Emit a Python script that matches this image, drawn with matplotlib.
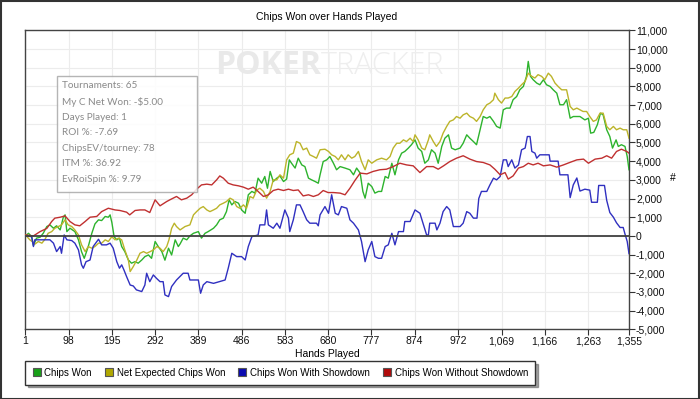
import matplotlib
matplotlib.use("Agg")
import matplotlib.pyplot as plt
from matplotlib.lines import Line2D
from matplotlib.patches import Rectangle
from matplotlib.ticker import FuncFormatter

# hands played vs chips
won_hands = [1, 8, 15, 19, 26, 34, 41, 49, 56, 64, 71, 79, 86, 90, 94, 101, 112, 120, 127, 133, 142, 150, 157, 165, 172, 180, 187, 191, 195, 200, 206, 212, 217, 224, 232, 239, 247, 254, 262, 269, 277, 284, 292, 299, 307, 314, 322, 329, 337, 344,
             348, 355, 363, 370, 378, 389, 396, 404, 411, 423, 430, 437, 445, 452, 458, 464, 471, 479, 486, 494, 501, 509, 516, 523, 531, 538, 544, 550, 557, 565, 572, 580, 587, 593, 598, 606, 613, 621, 628, 636, 643, 651, 658,
             662, 669, 677, 684, 692, 699, 707, 718, 729, 737, 744, 752, 758, 763, 770, 778, 785, 793, 800, 808, 815, 823, 830, 838, 845, 852, 860, 867, 875, 882, 890, 897, 905, 912, 920, 927, 935, 942, 950, 957, 965, 976, 983, 991,
             998, 1006, 1013, 1021, 1028, 1036, 1043, 1051, 1058, 1066, 1073, 1080, 1088, 1095, 1103, 1110, 1118, 1125, 1129, 1134, 1140, 1148, 1155, 1163, 1170, 1178, 1185, 1193, 1200, 1208, 1215, 1223, 1230, 1238, 1245, 1256, 1264, 1269, 1276, 1284, 1291, 1297, 1305, 1312, 1318, 1326, 1331, 1338, 1346, 1351, 1355]
won_vals = [0, 140, -40, -520, -120, -70, 140, 500, 590, 410, 540, 320, 1000, 1125, 230, 410, 230, -210, -850, -1200, -570, 140, 640, 860, 820, 1040, 1000, 1125, 710, -40, -210, -120, -570, -840, -1290, -1460, -1380, -1460, -1290, -1110, -1020, -1200, -300, -570, -840, -1300, -660, -1020, -210, -570,
            -430, -120, -210, 0, 140, 230, -120, 140, 230, 410, 590, 860, 950, 1300, 1930, 1660, 1840, 1750, 1390, 1210, 2200, 2380, 2290, 3090, 2820, 3180, 2550, 3450, 2910, 3090, 3210, 2910, 3040, 4070, 3890, 3630, 4160, 3800, 3710, 3090, 3000, 2910, 2820,
            3270, 3980, 4070, 4250, 3890, 3540, 3710, 3630, 3540, 3270, 3630, 3360, 2380, 2020, 2820, 2640, 2290, 2380, 2380, 3180, 3090, 3890, 3270, 4070, 4430, 4520, 4700, 4880, 5140, 4700, 4520, 3890, 4070, 4610, 4430, 3890, 4790, 5230, 5410, 4700, 4610, 4700, 4960, 5410,
            5230, 5050, 4880, 5680, 6390, 6300, 6390, 6130, 5860, 5770, 6750, 6840, 6840, 7290, 7460, 7820, 8000, 8540, 9340, 8540, 8360, 8180, 8090, 8360, 8090, 8000, 7820, 7640, 7020, 7020, 7290, 6300, 6390, 6390, 6390, 6210, 6300, 5500, 5540, 5950, 6570, 6480, 5680, 5320, 4700, 5140, 4790, 4880, 4790, 4250, 3540]

ev_hands = [1, 11, 23, 30, 38, 45, 52, 60, 67, 75, 82, 90, 97, 105, 112, 120, 127, 135, 142, 150, 157, 165, 172, 180, 187, 195, 202, 210, 217, 224, 232, 236, 243, 251, 258, 266, 273, 281, 288, 296, 303, 310, 318, 323, 329, 335,
            340, 348, 359, 370, 378, 385, 393, 400, 408, 415, 423, 430, 437, 445, 452, 460, 467, 475, 482, 490, 497, 505, 512, 520, 527, 535, 542, 550, 557, 565, 572, 580, 587, 594, 602, 609, 617, 624, 632, 639, 647, 654,
            662, 673, 681, 688, 696, 703, 710, 718, 725, 733, 740, 748, 755, 763, 770, 778, 789, 800, 811, 819, 826, 834, 841, 849, 856, 864, 871, 875, 882, 890, 897, 905, 908, 916, 923, 931, 938, 946, 953, 961, 968, 976, 983, 991,
            998, 1006, 1013, 1021, 1028, 1036, 1043, 1051, 1054, 1062, 1069, 1077, 1084, 1092, 1099, 1107, 1114, 1122, 1129, 1137, 1144, 1151, 1159, 1166, 1174, 1181, 1189, 1196, 1204, 1215, 1223, 1230, 1238, 1245, 1252, 1260, 1267, 1275, 1282, 1290, 1297, 1305, 1312, 1320, 1327, 1335, 1342, 1350, 1355]
ev_vals = [50, -210, -430, -300, -390, -180, 140, 230, 410, 500, 590, 860, 590, 500, 320, 50, -480, -840, -570, -660, -570, -390, -390, -210, -300, -40, -210, -120, -210, -750, -1290, -1910, -1640, -1290, -930, -840, -930, -840, -750, -570, -660, -840, -570, -210, 400, 680,
           500, 320, 500, 590, 1125, 1300, 1480, 1570, 1390, 1300, 1390, 1480, 1660, 1750, 1840, 2020, 1930, 1570, 1480, 1660, 1480, 2110, 2020, 2460, 2550, 2380, 2020, 2380, 3000, 3000, 3270, 3090, 4070, 4340, 4430, 5050, 4960, 4610, 4700, 4340, 4250, 4160,
           4610, 4640, 4520, 4340, 4250, 4070, 4340, 4070, 4340, 4160, 4250, 4520, 3980, 3540, 4070, 3890, 4070, 4160, 4070, 4250, 4700, 4960, 4960, 5140, 5050, 5230, 5050, 5410, 5140, 4700, 4610, 5140, 5410, 5050, 4790, 5050, 5500, 5860, 6130, 6210, 6390, 6300, 6480, 6570,
           6390, 6300, 6130, 6390, 6750, 7020, 7110, 7290, 7640, 7290, 7110, 7380, 7380, 7460, 7730, 7910, 8090, 8270, 8710, 8540, 8450, 8630, 8540, 8360, 8710, 8540, 8180, 8000, 7820, 7820, 6930, 6750, 6840, 6750, 6660, 6660, 6390, 6130, 6210, 6570, 6570, 5860, 5680, 5860, 5680, 5770, 5680, 5680, 5230]

sd_hands = [1, 15, 19, 22, 56, 64, 71, 79, 82, 88, 94, 105, 112, 120, 127, 131, 137, 146, 153, 165, 172, 183, 191, 198, 206, 212, 217, 222, 228, 236, 243, 250, 262, 269, 273, 280, 288, 295, 303, 310, 314, 322,
            329, 337, 340, 355, 366, 370, 389, 394, 400, 408, 423, 449, 456, 464, 475, 486, 494, 501, 509, 523, 527, 538, 542, 546, 557, 565, 572, 583, 591, 594, 602, 609, 617, 624, 632, 639, 654, 658,
            662, 673, 681, 688, 696, 703, 710, 722, 729, 737, 748, 755, 763, 770, 778, 785, 793, 800, 808, 815, 823, 830, 838, 849, 852, 864, 875, 886, 894, 901, 905, 908, 920, 924, 931, 938, 946, 953, 961, 976, 983, 991,
            998, 1006, 1014, 1018, 1024, 1036, 1043, 1051, 1058, 1066, 1073, 1080, 1084, 1092, 1099, 1107, 1114, 1122, 1127, 1133, 1137, 1144, 1148, 1155, 1176, 1178, 1196, 1200, 1218, 1223, 1230, 1238, 1245, 1256, 1267, 1271, 1284, 1287, 1300, 1305, 1312, 1320, 1327, 1335, 1342, 1346, 1351, 1355]
sd_vals = [0, -40, -570, -210, -210, -390, -840, -570, -930, 50, -210, -250, -390, -750, -1550, -1730, -1380, -1290, -570, -180, -480, -480, -390, -660, -1380, -1730, -1550, -1820, -2180, -2630, -2680, -2890, -2980, -2630, -2000, -2450, -2090, -2270, -2450, -2450, -3160, -3250,
           -2710, -2450, -2360, -2000, -2000, -2360, -2360, -3070, -2625, -2450, -2540, -2360, -1730, -930, -1110, -1110, -1290, -570, -40, 50, 590, 590, 1390, 590, 410, 680, 410, 1390, 950, 230, 860, 1660, 1660, 1300, 860, 680, 680, 540,
           1125, 1570, 1210, 2200, 1210, 1125, 1570, 1480, 860, 680, 320, -300, -1380, -750, -300, -1110, -1200, -1200, -570, -480, 140, -480, 230, 230, 770, 770, 1390, 1210, 590, 50, 50, 680, 680, 320, 680, 1300, 1570, 1390, 500, 500, 680, 1300,
           1210, 950, 950, 2000, 2380, 2380, 2730, 3090, 3000, 3180, 4070, 4070, 3710, 4070, 3630, 3800, 4610, 4700, 5320, 5320, 4520, 4430, 4160, 4340, 4340, 4000, 4000, 3270, 3270, 2050, 2730, 3100, 2400, 2500, 2450, 1800, 1800, 2700, 2700, 1900, 1250, 1000, 700, 450, 450, 100, -300, -950]

nsd_hands = [1, 19, 34, 49, 60, 67, 79, 90, 101, 112, 123, 135, 146, 161, 172, 187, 202, 213, 228, 235, 247, 258, 269, 280, 292, 303, 318,
             325, 340, 351, 363, 374, 385, 396, 408, 419, 430, 437, 445, 456, 467, 479, 490, 501, 512, 523, 535, 546, 557, 568, 580, 591, 602, 613, 624, 636, 647, 658, 669,
             680, 692, 707, 718, 729, 740, 752, 767, 781, 796, 811, 826, 841, 856, 871, 886, 901, 916, 927, 939, 953, 968, 983,
             998, 1013, 1028, 1043, 1054, 1066, 1077, 1084, 1095, 1107, 1118, 1129, 1140, 1151, 1163, 1178, 1193, 1208, 1222, 1238, 1253, 1264, 1279, 1294, 1305, 1316, 1327, 1338, 1350, 1355]
nsd_vals = [50, 0, 230, 400, 770, 950, 1000, 1070, 770, 590, 540, 770, 1000, 1040, 1300, 1480, 1390, 1360, 1270, 1125, 1360, 1390, 1390, 1250, 1930, 1610, 1840,
            1930, 2110, 1930, 2020, 2200, 2500, 2730, 2770, 2730, 3000, 3210, 3090, 2820, 2730, 2680, 2610, 2500, 2610, 2380, 2110, 2200, 2430, 2500, 2430, 2500, 2430, 2460, 2140, 2200, 2110, 2200, 2430,
            2320, 2320, 2290, 2200, 2550, 2960, 3360, 3320, 3450, 3540, 3570, 3710, 3890, 3800, 3750, 3390, 3710, 3710, 3570, 3750, 3980, 4160, 4290,
            4110, 3980, 3930, 3800, 3570, 3270, 3390, 3040, 3210, 3630, 3710, 3890, 3800, 3890, 3750, 3800, 3680, 3800, 3930, 4070, 4110, 3890, 4110, 4160, 4290, 4160, 4520, 4640, 4520, 4430]

x_ticks = [1, 98, 195, 292, 389, 486, 583, 680, 777, 874, 972, 1069, 1166, 1263, 1355]
series = [
    ("Chips Won", won_hands, won_vals, "#2db32d", "#18a018"),
    ("Net Expected Chips Won", ev_hands, ev_vals, "#bcb42a", "#b0a800"),
    ("Chips Won With Showdown", sd_hands, sd_vals, "#3030c0", "#0a0ab0"),
    ("Chips Won Without Showdown", nsd_hands, nsd_vals, "#c03030", "#b00a0a"),
]
stats = ["Tournaments: 65", "My C Net Won: -$5.00", "Days Played: 1", "ROI %: -7.69",
         "ChipsEV/tourney: 78", "ITM %: 36.92", "EvRoiSpin %: 9.79"]

plt.rcParams['font.family'] = ['Liberation Sans', 'DejaVu Sans']
W, H = 700, 399
fig = plt.figure(figsize=(7, 3.99), dpi=100)
ax = fig.add_axes([25.4 / W, 1 - 329.3 / H, (629 - 25.4) / W, (329.3 - 30.4) / H])

# watermark
fig.text(215 / W, 1 - 66 / H, "POKER", fontsize=23, fontweight='bold', color='#e9e9e9',
         ha='left', va='center', family='Open Sans', zorder=0)
fig.text(321 / W, 1 - 66 / H, "TRACKER", fontsize=22, fontweight='light', color='#eeeeee',
         ha='left', va='center', family='Open Sans', zorder=0)
ax.set_facecolor('none')

for name, hx, hy, col, _ in series:
    ax.plot(hx, hy, color=col, lw=1.0, label=name, zorder=3)
ax.axhline(0, color='#404040', lw=1.3, zorder=4)

ax.set_xlim(1, 1355)
ax.set_ylim(-5000, 11000)
ax.set_xticks(x_ticks)
ax.set_yticks(range(-5000, 11001, 1000))
fmt = FuncFormatter(lambda v, p: f"{int(v):,}")
ax.xaxis.set_major_formatter(fmt)
ax.yaxis.set_major_formatter(fmt)
ax.yaxis.tick_right()
ax.yaxis.set_label_position('right')
ax.tick_params(axis='both', labelsize=7.5, length=4, width=0.8, color='#333333', pad=1, labelcolor='#111111')
ax.grid(True, color='#ececec', lw=0.8, zorder=0)
for s in ax.spines.values():
    s.set_color('#444444')
    s.set_linewidth(1.0)
ax.set_xlabel("Hands Played", fontsize=7.5, labelpad=2)
ax.set_ylabel("#", fontsize=7.5, rotation=0, va='center', ha='center')
ax.yaxis.set_label_coords((673 - 25.4) / 603.6, 0.505)
fig.text(327 / W, 1 - 17 / H, "Chips Won over Hands Played", fontsize=7.5, ha='center', va='center')

# stats box
fig.patches.append(Rectangle((57 / W, 1 - 192 / H), 140 / W, 116 / H, transform=fig.transFigure,
                             facecolor='white', edgecolor='#a8a8a8', lw=1.0, alpha=0.85, zorder=5))
for i, line in enumerate(stats):
    fig.text(62 / W, 1 - (86 + i * 15.6) / H, line, fontsize=7.2, color='#8a8a8a',
             ha='left', va='center', family='Lato', zorder=6)

handles = [Line2D([], [], ls='none', marker='s', markersize=6, markerfacecolor=lc,
                  markeredgecolor='#555555', markeredgewidth=0.8) for _, _, _, _, lc in series]
leg = fig.legend(handles, [s[0] for s in series], loc='upper left', ncol=4,
                 bbox_to_anchor=(25 / W, 1 - 361 / H), fontsize=7.0, frameon=True, fancybox=False,
                 shadow=True, borderaxespad=0, handletextpad=0.3, columnspacing=1.25, handlelength=1.0,
                 borderpad=0.7)
leg.get_frame().set_edgecolor('#333333')
leg.get_frame().set_linewidth(1.0)

fig.patches.append(Rectangle((0.001, 0.001), 0.998, 0.997, transform=fig.transFigure,
                             fill=False, edgecolor='#333333', lw=1.5))
fig.savefig("out.png", dpi=100)
